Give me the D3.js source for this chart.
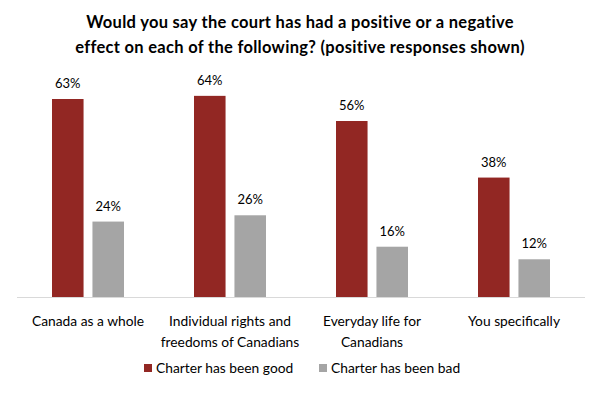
<!DOCTYPE html>
<html>
<head>
<meta charset="utf-8">
<script src="https://cdn.jsdelivr.net/npm/d3@7"></script>
<style>
  body { margin: 0; background: #fff; }
  svg { display: block; font-family: Lato, "Open Sans", sans-serif; }
</style>
</head>
<body>
<div id="chart"></div>
<script>
// Chart data
const categories = [
  ['Canada as a whole'],
  ['Individual rights and', 'freedoms of Canadians'],
  ['Everyday life for', 'Canadians'],
  ['You specifically']
];
const seriesNames = ['Charter has been good', 'Charter has been bad'];
const goodValues = [63, 64, 56, 38];
const badValues = [24, 26, 16, 12];
const seriesColors = ['#922723', '#a5a5a5'];
const titleLines = [
  'Would you say the court has had a positive or a negative',
  'effect on each of the following? (positive responses shown)'
];

const width = 600;
const height = 393;
const margin = { top: 77, right: 15, bottom: 96, left: 17 };

const svg = d3.select('#chart')
  .append('svg')
  .attr('width', width)
  .attr('height', height);

// Title
svg.append('text')
  .attr('x', width / 2)
  .attr('y', 28)
  .attr('text-anchor', 'middle')
  .style('font-size', '16.5px')
  .style('letter-spacing', '0.3px')
  .style('font-weight', 'bold')
  .attr('fill', '#000')
  .selectAll('tspan')
  .data(titleLines)
  .join('tspan')
  .attr('x', width / 2)
  .attr('dy', (d, i) => i === 0 ? 0 : 25)
  .text(d => d);

const keys = categories.map(c => c.join(' '));
const rows = keys.map((k, i) => ({ key: k, values: [goodValues[i], badValues[i]] }));

// Scales
const x0 = d3.scaleBand()
  .domain(keys)
  .range([margin.left, width - margin.right]);

const x1 = d3.scaleBand()
  .domain(seriesNames)
  .range([x0.bandwidth() / 2 - 36, x0.bandwidth() / 2 + 36])
  .paddingInner(0.22);

const y = d3.scaleLinear()
  .domain([0, 70])
  .range([height - margin.bottom, margin.top]);

const baseline = y(0);

// Bars
const group = svg.append('g')
  .selectAll('g')
  .data(rows)
  .join('g')
  .attr('transform', d => `translate(${x0(d.key)},0)`);

group.selectAll('rect')
  .data(d => d.values.map((v, i) => ({ name: seriesNames[i], value: v, i })))
  .join('rect')
  .attr('x', d => x1(d.name))
  .attr('y', d => y(d.value))
  .attr('width', x1.bandwidth())
  .attr('height', d => baseline - y(d.value))
  .attr('fill', d => seriesColors[d.i]);

// Value labels
group.selectAll('text.val')
  .data(d => d.values.map((v, i) => ({ name: seriesNames[i], value: v })))
  .join('text')
  .attr('class', 'val')
  .attr('x', d => x1(d.name) + x1.bandwidth() / 2)
  .attr('y', d => y(d.value) - 11)
  .attr('text-anchor', 'middle')
  .style('font-size', '13px')
  .attr('fill', '#000')
  .text(d => d.value + '%');

// Baseline axis
svg.append('line')
  .attr('x1', margin.left)
  .attr('x2', width - margin.right)
  .attr('y1', baseline + 0.5)
  .attr('y2', baseline + 0.5)
  .attr('stroke', '#d9d9d9')
  .attr('stroke-width', 1);

// Category labels
svg.append('g')
  .selectAll('text')
  .data(categories)
  .join('text')
  .attr('x', (d, i) => x0(keys[i]) + x0.bandwidth() / 2)
  .attr('y', baseline + 29)
  .attr('text-anchor', 'middle')
  .style('font-size', '13.8px')
  .attr('fill', '#000')
  .selectAll('tspan')
  .data(d => d)
  .join('tspan')
  .attr('x', function() { return d3.select(this.parentNode).attr('x'); })
  .attr('dy', (d, i) => i === 0 ? 0 : 21)
  .text(d => d);

// Legend
const legendX = [144, 319];
const legend = svg.append('g')
  .selectAll('g')
  .data(seriesNames)
  .join('g')
  .attr('transform', (d, i) => `translate(${legendX[i]},364)`);

legend.append('rect')
  .attr('width', 8)
  .attr('height', 8)
  .attr('fill', (d, i) => seriesColors[i]);

legend.append('text')
  .attr('x', 12)
  .attr('y', 8.5)
  .style('font-size', '13.8px')
  .attr('fill', '#000')
  .text(d => d);
</script>
</body>
</html>
